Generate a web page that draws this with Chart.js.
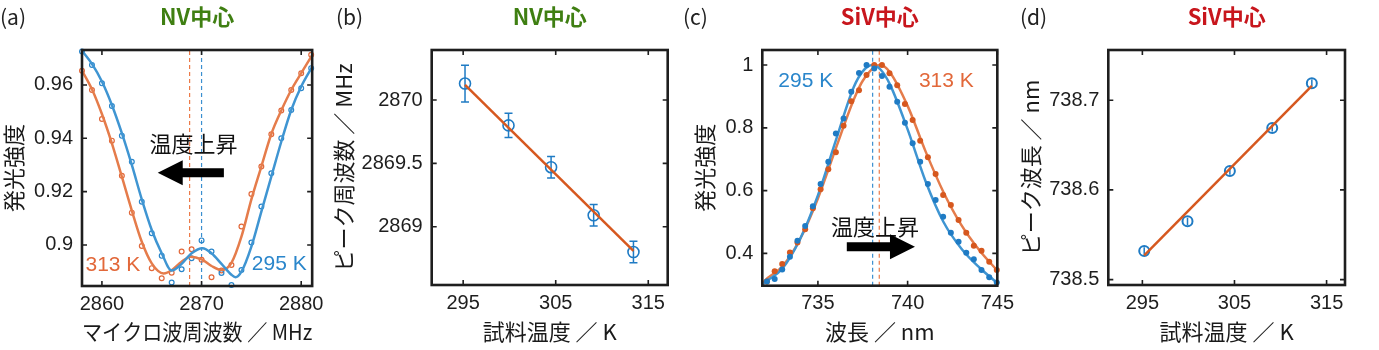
<!DOCTYPE html>
<html>
<head>
<meta charset="utf-8">
<script src="https://cdn.jsdelivr.net/npm/chart.js@4.4.0/dist/chart.umd.min.js"></script>
<style>
body { margin: 0; background: #fff; width: 1379px; height: 350px; overflow: hidden; position: relative; }
canvas { position: absolute; top: 0; }
</style>
</head>
<body>
<canvas id="pa" width="330" height="350" style="left:0px"></canvas>
<canvas id="pb" width="350" height="350" style="left:330px"></canvas>
<canvas id="pc" width="340" height="350" style="left:680px"></canvas>
<canvas id="pd" width="369" height="350" style="left:1010px"></canvas>
<script>
// (a) NV centre: ODMR spectra at 295 K and 313 K
var odmrFreq = [2858, 2859, 2860, 2861, 2862, 2863, 2864, 2865, 2866, 2867, 2868, 2869,
                2870, 2871, 2872, 2873, 2874, 2875, 2876, 2877, 2878, 2879, 2880, 2881];
var odmr295 = [0.9725, 0.9675, 0.9606, 0.9521, 0.9409, 0.9312, 0.9162, 0.9044, 0.8959, 0.8859, 0.8909, 0.8950,
               0.9017, 0.8975, 0.8895, 0.8850, 0.8906, 0.9009, 0.9144, 0.9269, 0.9400, 0.9506, 0.9588, 0.9663];
var odmr313 = [0.9653, 0.9581, 0.9472, 0.9391, 0.9259, 0.9121, 0.8996, 0.8913, 0.8875, 0.8896, 0.8975, 0.8984,
               0.8944, 0.8879, 0.8904, 0.8925, 0.9069, 0.9191, 0.9294, 0.9415, 0.9504, 0.9581, 0.9644, 0.9713];
var odmrFitX295 = [2858, 2859, 2860, 2861, 2862, 2863, 2864, 2865, 2866, 2867, 2868, 2869, 2870.1,
                   2871, 2872, 2873, 2873.4, 2874, 2875, 2876, 2877, 2878, 2879, 2880, 2881.1];
var odmrFit295 = [0.9728, 0.9679, 0.9613, 0.9525, 0.9419, 0.9300, 0.9171, 0.9056, 0.8969, 0.8904, 0.8929, 0.8969, 0.8988,
                  0.8969, 0.8929, 0.8888, 0.8879, 0.8900, 0.8994, 0.9125, 0.9256, 0.9387, 0.9506, 0.9594, 0.9668];
var odmrFitX313 = [2858, 2859, 2860, 2861, 2862, 2863, 2864, 2865, 2866.2, 2867, 2868, 2868.9,
                   2870, 2871, 2872, 2873, 2874, 2875, 2876, 2877, 2878, 2879, 2880, 2881.1];
var odmrFit313 = [0.9654, 0.9584, 0.9491, 0.9381, 0.9256, 0.9129, 0.9012, 0.8931, 0.8893, 0.8905, 0.8937, 0.8956,
                  0.8946, 0.8921, 0.8906, 0.8933, 0.9031, 0.9171, 0.9294, 0.9416, 0.9504, 0.9581, 0.9644, 0.9712];
var odmrPeak = [2870.0, 2868.8];          // 295 K, 313 K
var odmrXTicks = [2860, 2870, 2880];
var odmrYTicks = [0.90, 0.92, 0.94, 0.96];

// (b) NV centre: peak frequency vs sample temperature
var sampleTemp = [295.2, 299.9, 304.5, 309.1, 313.4];
var nvPeakFreq = [2870.13, 2869.80, 2869.47, 2869.09, 2868.80];
var nvPeakErr = [0.145, 0.095, 0.085, 0.085, 0.085];
var nvFitTemp = [295.2, 313.4];
var nvFitFreq = [2870.12, 2868.81];
var tempTicks = [295, 305, 315];
var nvYTicks = [2869, 2869.5, 2870];

// (c) SiV centre: PL spectra at 295 K and 313 K
var plWave = [732.16, 732.59, 733.01, 733.44, 733.86, 734.29, 734.72, 735.15, 735.58, 736.00, 736.43,
              736.86, 737.29, 737.71, 738.14, 738.57, 738.99, 739.42, 739.85, 740.28, 740.70, 741.13,
              741.56, 741.98, 742.41, 742.84, 743.27, 743.69, 744.12, 744.55, 744.97];
var pl295 = [0.310, 0.318, 0.349, 0.389, 0.440, 0.487, 0.550, 0.621, 0.692, 0.782, 0.830,
             0.915, 0.975, 1.000, 0.989, 0.965, 0.931, 0.883, 0.816, 0.751, 0.692, 0.621,
             0.570, 0.517, 0.466, 0.437, 0.402, 0.381, 0.347, 0.324, 0.307];
var pl313 = [0.310, 0.343, 0.366, 0.403, 0.435, 0.477, 0.544, 0.604, 0.668, 0.722, 0.807,
             0.885, 0.920, 0.968, 1.000, 1.000, 0.974, 0.936, 0.876, 0.825, 0.759, 0.706,
             0.653, 0.586, 0.554, 0.506, 0.466, 0.424, 0.408, 0.373, 0.347];
var plFitX295 = [731.9, 732, 733, 734, 735, 736, 737, 737.5, 738.05, 738.5, 739, 740, 741, 742, 743, 744, 745];
var plFit295 = [0.298, 0.305, 0.350, 0.445, 0.585, 0.760, 0.930, 0.980, 1.000, 0.985, 0.940, 0.795, 0.630, 0.500, 0.415, 0.355, 0.305];
var plFitX313 = [731.9, 732, 733, 734, 735, 736, 737, 737.5, 738.45, 739, 740, 741, 742, 743, 744, 745];
var plFit313 = [0.300, 0.310, 0.357, 0.445, 0.575, 0.735, 0.890, 0.950, 1.000, 0.978, 0.870, 0.725, 0.595, 0.490, 0.410, 0.345];
var plPeak = [738.05, 738.42];            // 295 K, 313 K
var plXTicks = [735, 740, 745];
var plYTicks = [0.4, 0.6, 0.8, 1];

// (d) SiV centre: peak wavelength vs sample temperature
var sivPeakWave = [738.532, 738.565, 738.621, 738.669, 738.719];
var sivPeakErr = [0.004, 0.004, 0.004, 0.004, 0.004];
var sivFitTemp = [295.2, 313.4];
var sivFitWave = [738.527, 738.716];
var sivYTicks = [738.5, 738.6, 738.7];

var TICK_FONT = '"Liberation Sans", Arial, sans-serif';
var JP_FONT = '"Noto Sans CJK JP", sans-serif';
var H = 350;

var BLUE_DOT = '#2a86cb', ORANGE_DOT = '#e2683a';
var BLUE_LINE = '#3f95d2', ORANGE_LINE = '#e57c4b';
var BLUE = '#1f7bc4', ORANGE = '#d6581f';
var GREEN = '#3f7f12', RED = '#c8161d';

function pts(xs, ys) {
  return xs.map(function (x, i) { return {x: x, y: ys[i]}; });
}

function dots(data, color, r, filled, bw) {
  return {data: data, borderColor: color, backgroundColor: filled ? color : 'rgba(0,0,0,0)',
          pointRadius: r, pointHoverRadius: r, pointBorderWidth: bw, clip: 5};
}

function curve(data, color, w, smooth) {
  return {data: data, showLine: true, borderColor: color, borderWidth: w, pointRadius: 0,
          cubicInterpolationMode: smooth ? 'monotone' : 'default', fill: false};
}

function vline(xv, lo, hi, color) {
  return {data: [{x: xv, y: lo}, {x: xv, y: hi}], showLine: true, borderColor: color,
          borderWidth: 1.2, borderDash: [4, 3], pointRadius: 0};
}

// frame, inward ticks, error bars, titles and notes
var decoPlugin = {
  id: 'deco',
  beforeDatasetsDraw: function (chart, args, o) {
    var ctx = chart.ctx, x = chart.scales.x, y = chart.scales.y;
    (o.errors || []).forEach(function (eb) {
      ctx.save();
      ctx.strokeStyle = eb.color;
      ctx.lineWidth = 1.5;
      ctx.beginPath();
      eb.x.forEach(function (xv, i) {
        var px = x.getPixelForValue(xv);
        var p0 = y.getPixelForValue(eb.y[i] - eb.e[i]);
        var p1 = y.getPixelForValue(eb.y[i] + eb.e[i]);
        ctx.moveTo(px, p0); ctx.lineTo(px, p1);
        if (eb.cap) {
          ctx.moveTo(px - eb.cap, p0); ctx.lineTo(px + eb.cap, p0);
          ctx.moveTo(px - eb.cap, p1); ctx.lineTo(px + eb.cap, p1);
        }
      });
      ctx.stroke();
      ctx.restore();
    });
  },
  afterDatasetsDraw: function (chart, args, o) {
    var ctx = chart.ctx, a = chart.chartArea, x = chart.scales.x, y = chart.scales.y;
    ctx.save();
    ctx.strokeStyle = '#1e1e1e';
    ctx.lineWidth = 1.6;
    ctx.beginPath();
    x.ticks.forEach(function (t) {
      var p = x.getPixelForValue(t.value);
      ctx.moveTo(p, a.bottom); ctx.lineTo(p, a.bottom - 5);
      ctx.moveTo(p, a.top); ctx.lineTo(p, a.top + 5);
    });
    y.ticks.forEach(function (t) {
      var p = y.getPixelForValue(t.value);
      ctx.moveTo(a.left, p); ctx.lineTo(a.left + 5, p);
      ctx.moveTo(a.right, p); ctx.lineTo(a.right - 5, p);
    });
    ctx.stroke();
    ctx.lineWidth = 2.6;
    ctx.strokeRect(a.left, a.top, a.right - a.left, a.bottom - a.top);

    ctx.textAlign = 'center';
    ctx.textBaseline = 'middle';
    (o.texts || []).forEach(function (t) {
      ctx.font = t.font;
      ctx.fillStyle = t.color;
      ctx.fillText(t.text, x.getPixelForValue(t.x), y.getPixelForValue(t.y));
    });
    (o.arrows || []).forEach(function (ar) {
      var p0 = x.getPixelForValue(ar.from), p1 = x.getPixelForValue(ar.to), py = y.getPixelForValue(ar.y);
      var d = p1 > p0 ? 1 : -1, hl = 25, hw = 12.5, sw = 4.5;
      ctx.fillStyle = '#000';
      ctx.beginPath();
      ctx.moveTo(p0, py - sw);
      ctx.lineTo(p1 - d * hl, py - sw);
      ctx.lineTo(p1 - d * hl, py - hw);
      ctx.lineTo(p1, py);
      ctx.lineTo(p1 - d * hl, py + hw);
      ctx.lineTo(p1 - d * hl, py + sw);
      ctx.lineTo(p0, py + sw);
      ctx.closePath();
      ctx.fill();
    });

    ctx.font = 'bold 22px ' + JP_FONT;
    ctx.fillStyle = o.titleColor;
    ctx.fillText(o.title, (a.left + a.right) / 2, 17);
    ctx.textAlign = 'left';
    ctx.font = '21px ' + JP_FONT;
    ctx.fillStyle = '#222';
    ctx.fillText(o.label, o.labelX, 17);
    ctx.restore();
  }
};

function axis(min, max, ticks, title, fit, tickPad, titlePad) {
  return {
    type: 'linear', min: min, max: max,
    afterBuildTicks: function (s) { s.ticks = ticks.map(function (v) { return {value: v}; }); },
    afterFit: fit,
    grid: {display: false, drawTicks: false},
    border: {display: false},
    ticks: {padding: tickPad, color: '#1e1e1e', font: {family: TICK_FONT, size: 20},
            callback: function (v) { return String(v); }},
    title: {display: true, text: title, color: '#1a1a1a', font: {family: JP_FONT, size: 22}, padding: titlePad}
  };
}

// g.area = [left, right, top, bottom] in canvas pixels
function panel(id, g) {
  var cv = document.getElementById(id);
  var W = cv.width;
  return new Chart(cv, {
    type: 'scatter',
    data: {datasets: g.datasets},
    options: {
      responsive: false, animation: false, devicePixelRatio: 1,
      layout: {padding: {left: g.padL, right: W - g.area[1], top: g.area[2], bottom: 0}},
      plugins: {legend: {display: false}, tooltip: {enabled: false}, deco: g.deco},
      scales: {
        x: axis(g.x[0], g.x[1], g.xTicks, g.xTitle,
                function (s) { s.height = H - g.area[3]; }, 6, {top: 0, bottom: 5}),
        y: axis(g.y[0], g.y[1], g.yTicks, g.yTitle,
                function (s) { s.width = g.area[0] - g.padL; }, 9, {top: 0, bottom: 0})
      }
    },
    plugins: [decoPlugin]
  });
}

var aY = [0.8846, 0.9731];
panel('pa', {
  area: [82, 318.5, 50, 286], padL: 0,
  x: [2858, 2881.1], y: aY, xTicks: odmrXTicks, yTicks: odmrYTicks,
  xTitle: 'マイクロ波周波数 ／ MHz', yTitle: '発光強度',
  datasets: [
    curve(pts(odmrFitX295, odmrFit295), BLUE_LINE, 2.5, true),
    curve(pts(odmrFitX313, odmrFit313), ORANGE_LINE, 2.5, true),
    dots(pts(odmrFreq, odmr295), BLUE_DOT, 2.4, false, 1.2),
    dots(pts(odmrFreq, odmr313), ORANGE_DOT, 2.4, false, 1.2),
    vline(odmrPeak[0], aY[0], aY[1], '#3a8fd0'),
    vline(odmrPeak[1], aY[0], aY[1], '#ec7a48')
  ],
  deco: {
    title: 'NV中心', titleColor: GREEN, label: '(a)', labelX: 0,
    texts: [
      {text: '313 K', x: 2861.1, y: 0.8925, color: ORANGE_DOT, font: '21px ' + TICK_FONT},
      {text: '295 K', x: 2877.8, y: 0.8929, color: BLUE_DOT, font: '21px ' + TICK_FONT},
      {text: '温度上昇', x: 2869.2, y: 0.9381, color: '#111', font: '22px ' + JP_FONT}
    ],
    arrows: [{from: 2872.24, to: 2865.6, y: 0.9271}]
  }
});

panel('pb', {
  area: [101.7, 337.7, 50, 285], padL: 0,
  x: [291.6, 317.1], y: [2868.54, 2870.395], xTicks: tempTicks, yTicks: nvYTicks,
  xTitle: '試料温度 ／ K', yTitle: 'ピーク周波数 ／ MHz',
  datasets: [
    curve(pts(nvFitTemp, nvFitFreq), ORANGE, 2.5, false),
    dots(pts(sampleTemp, nvPeakFreq), BLUE, 5.5, false, 1.6)
  ],
  deco: {
    title: 'NV中心', titleColor: GREEN, label: '(b)', labelX: 6,
    errors: [{x: sampleTemp, y: nvPeakFreq, e: nvPeakErr, color: BLUE, cap: 4}]
  }
});

var cY = [0.297, 1.048];
panel('pc', {
  area: [82.3, 318, 50, 285.7], padL: 11.8,
  x: [731.9, 745], y: cY, xTicks: plXTicks, yTicks: plYTicks,
  xTitle: '波長 ／ nm', yTitle: '発光強度',
  datasets: [
    dots(pts(plWave, pl295), BLUE, 3, true, 0),
    dots(pts(plWave, pl313), ORANGE, 3, true, 0),
    curve(pts(plFitX295, plFit295), BLUE_LINE, 2.5, true),
    curve(pts(plFitX313, plFit313), ORANGE_LINE, 2.5, true),
    vline(plPeak[0], cY[0], cY[1], '#3a8fd0'),
    vline(plPeak[1], cY[0], cY[1], '#ec7a48')
  ],
  deco: {
    title: 'SiV中心', titleColor: RED, label: '(c)', labelX: 3,
    texts: [
      {text: '295 K', x: 734.32, y: 0.947, color: BLUE_DOT, font: '21px ' + TICK_FONT},
      {text: '313 K', x: 742.16, y: 0.947, color: ORANGE_DOT, font: '21px ' + TICK_FONT},
      {text: '温度上昇', x: 738.18, y: 0.485, color: '#111', font: '22px ' + JP_FONT}
    ],
    arrows: [{from: 736.61, to: 740.41, y: 0.421}]
  }
});

panel('pd', {
  area: [98.3, 335, 50, 285], padL: 7.8,
  x: [291.3, 317.0], y: [738.494, 738.756], xTicks: tempTicks, yTicks: sivYTicks,
  xTitle: '試料温度 ／ K', yTitle: 'ピーク波長 ／ nm',
  datasets: [
    curve(pts(sivFitTemp, sivFitWave), ORANGE, 2.5, false),
    dots(pts(sampleTemp, sivPeakWave), BLUE, 5, false, 2)
  ],
  deco: {
    title: 'SiV中心', titleColor: RED, label: '(d)', labelX: 10,
    errors: [{x: sampleTemp, y: sivPeakWave, e: sivPeakErr, color: BLUE, cap: 0}]
  }
});
</script>
</body>
</html>
